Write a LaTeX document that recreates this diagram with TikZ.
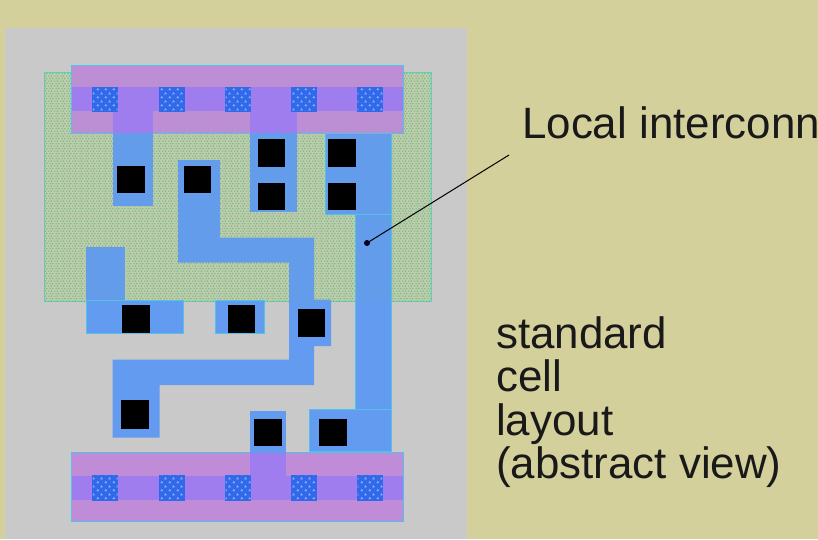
\documentclass[tikz,border=0pt]{standalone}
\usepackage{fontspec}
\usepackage{xcolor}
\setmainfont{Liberation Sans}
\usetikzlibrary{patterns}
\definecolor{cellbg}{RGB}{212,208,156}
\definecolor{cellgrey}{RGB}{201,201,201}
\definecolor{wellgreen}{RGB}{190,205,172}
\definecolor{welldot}{RGB}{118,184,136}
\definecolor{welledge}{RGB}{90,210,190}
\definecolor{metalblue}{RGB}{98,155,240}
\definecolor{metaledge}{RGB}{80,195,235}
\definecolor{railpink}{RGB}{192,140,216}
\definecolor{railband}{RGB}{160,125,238}
\definecolor{cutblue}{RGB}{50,105,235}
\pgfdeclarepatternformonly{wellspeck}{\pgfqpoint{0pt}{0pt}}{\pgfqpoint{6pt}{5.4pt}}{\pgfqpoint{6pt}{5.4pt}}{
  \pgfpathcircle{\pgfqpoint{1pt}{1pt}}{0.8pt}
  \pgfpathcircle{\pgfqpoint{4pt}{1pt}}{0.8pt}
  \pgfpathcircle{\pgfqpoint{2.5pt}{3.7pt}}{0.8pt}
  \pgfpathcircle{\pgfqpoint{5.5pt}{3.7pt}}{0.8pt}
  \pgfusepath{fill}
}
\pgfdeclarepatternformonly{cutscallop}{\pgfqpoint{0pt}{0pt}}{\pgfqpoint{8pt}{8pt}}{\pgfqpoint{8pt}{8pt}}{
  \pgfpathmoveto{\pgfqpoint{0.5pt}{1pt}}\pgflineto{\pgfqpoint{3.5pt}{1pt}}\pgflineto{\pgfqpoint{2pt}{3.5pt}}\pgfclosepath
  \pgfpathmoveto{\pgfqpoint{4.5pt}{5pt}}\pgflineto{\pgfqpoint{7.5pt}{5pt}}\pgflineto{\pgfqpoint{6pt}{7.5pt}}\pgfclosepath
  \pgfusepath{fill}
}
\tikzset{
  wellbox/.style={fill=wellgreen, draw=welledge, line width=1pt},
  welldots/.style={pattern=wellspeck, pattern color=welldot},
  wellveil/.style={pattern=wellspeck, pattern color=welldot, opacity=0.3},
  railbox/.style={fill=railpink, draw=metaledge, line width=0.8pt},
  bandbox/.style={fill=railband, draw=none},
  metal/.style={fill=metalblue, draw=none},
  metaledged/.style={fill=metalblue, draw=metaledge, line width=0.7pt},
  viacut/.style={fill=black, draw=none},
  railcut/.style={fill=cutblue, draw=cutblue, line width=0.6pt, postaction={pattern=cutscallop, pattern color=metalblue!75!white}},
  notelabel/.style={font=\fontsize{43.9}{43.3}\selectfont, text=black!90, align=left, inner sep=0pt, anchor=base west},
}
\begin{document}
\begin{tikzpicture}[x=1pt,y=-1pt]
  \useasboundingbox (0,0) rectangle (818,539);
  \fill[cellbg] (0,0) rectangle (818,539);
  \fill[cellgrey] (5,28) rectangle (467,539);
  % n-well
  \draw[wellbox] (44,72) rectangle (431,301);
  \fill[welldots] (44,72) rectangle (431,301);
  % power rails
  \draw[railbox] (71.5,65) rectangle (403,133);
  \draw[railbox] (71.5,452.5) rectangle (403,521.5);
  % metal
  \fill[metal] (112.5,133) rectangle (152.5,205.5);
  \fill[metal] (178,160) -- (220,160) -- (220,237.5) -- (314,237.5) -- (314,299.5)
    -- (331,299.5) -- (331,346) -- (314,346) -- (314,385) -- (159.5,385) -- (159.5,437.5)
    -- (112.5,437.5) -- (112.5,359.5) -- (289,359.5) -- (289,262.5) -- (178,262.5) -- cycle;
  \fill[metal] (250,133) rectangle (296.5,212);
  \draw[metaledged] (355,214) rectangle (391,409.5);
  \draw[metaledged] (325,133) rectangle (391,214);
  \draw[metaledged] (309.5,409.5) rectangle (391,451.5);
  \fill[metal] (86,246.5) rectangle (124.5,300);
  \draw[metaledged] (86,300) rectangle (183.5,333.5);
  \draw[metaledged] (215.5,300) rectangle (264,333.5);
  \fill[metal] (250,410.5) rectangle (285.5,452.5);
  \fill[wellveil] (44,72) rectangle (431,301);
  % rail bands and straps
  \fill[bandbox] (72,87) rectangle (402.6,110.5);
  \fill[bandbox] (72,476) rectangle (402.6,500);
  \fill[bandbox] (112.5,110) rectangle (152.5,133);
  \fill[bandbox] (250,110) rectangle (296.5,133);
  \fill[bandbox] (250,452.5) rectangle (285.5,500);
  % rail contacts
  \foreach \cx in {92.5,159,225.5,291,357.5} {
    \fill[railcut] (\cx,87) rectangle +(25,24);
    \fill[railcut] (\cx,475.5) rectangle +(25,24.5);
  }
  % contact cuts
  \foreach \cx/\cy/\cw/\ch in {117/166/28/27,183.5/166/27/27,258/138.5/27/28,258/183/27/27,
      328/138.5/28/28,328/182.5/28/27.5,121.5/304.5/28/28.5,227.5/304.5/27/28,297.5/309/27/28,
      121/400/28/28.5,253.5/418.5/28/27,318.5/418.5/28/27} {
    \fill[viacut] (\cx,\cy) rectangle +(\cw,\ch);
  }
  % labels
  \coordinate (tap) at (367,243);
  \coordinate (leadend) at (509,155);
  \fill[black!85!blue] (tap) circle (3pt);
  \draw[black, line width=1pt] (tap) -- (leadend);
  \node[notelabel] (localnote) at (522,138.3) {Local interconn};
  \node[notelabel] (cellnote) at (496,478.3) {standard\\cell\\layout\\(abstract view)};
\end{tikzpicture}
\end{document}
